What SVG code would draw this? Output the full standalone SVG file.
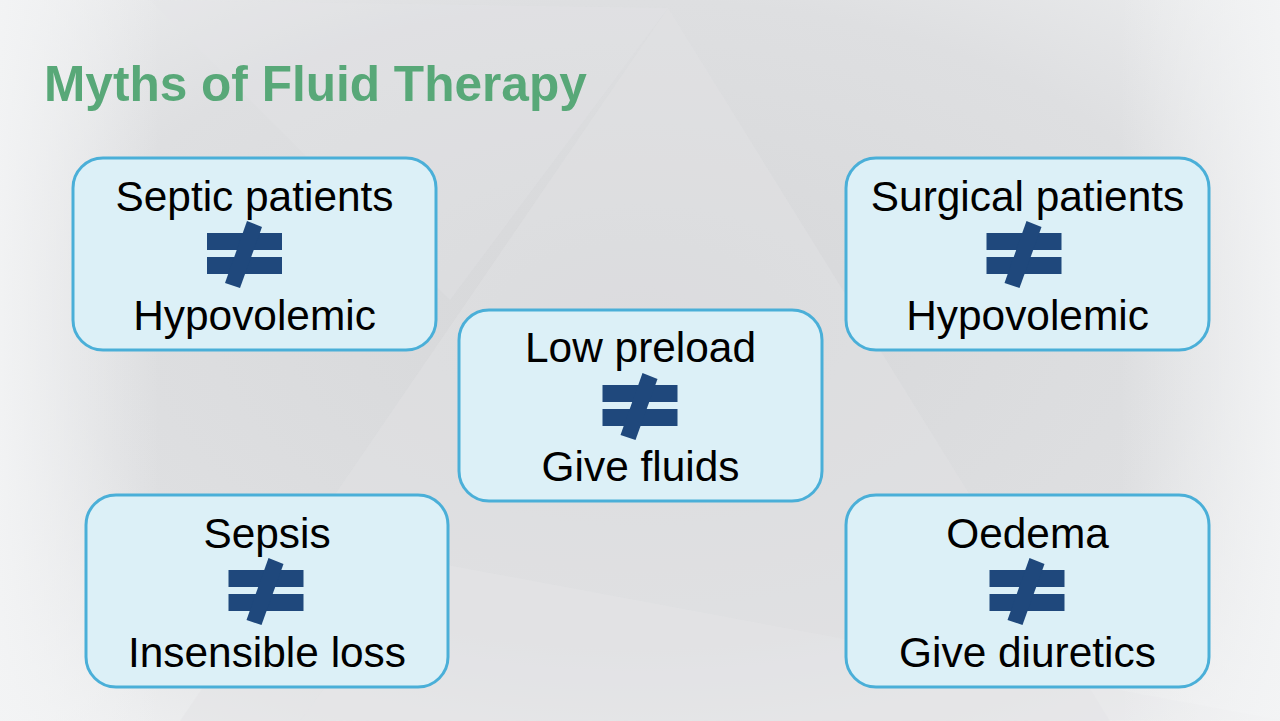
<svg xmlns="http://www.w3.org/2000/svg" width="1280" height="721" viewBox="0 0 1280 721">
  <defs>
    <radialGradient id="bg" cx="0.5" cy="0.45" r="0.75">
      <stop offset="0" stop-color="#d6d7d9"/>
      <stop offset="0.6" stop-color="#dedfe1"/>
      <stop offset="1" stop-color="#f1f2f3"/>
    </radialGradient>
    <linearGradient id="edgeL" x1="0" y1="0" x2="1" y2="0">
      <stop offset="0" stop-color="#f3f4f5" stop-opacity="0.9"/>
      <stop offset="1" stop-color="#f3f4f5" stop-opacity="0"/>
    </linearGradient>
    <linearGradient id="edgeR" x1="1" y1="0" x2="0" y2="0">
      <stop offset="0" stop-color="#f3f4f5" stop-opacity="0.9"/>
      <stop offset="1" stop-color="#f3f4f5" stop-opacity="0"/>
    </linearGradient>
    <g id="neq">
      <rect x="-37.5" y="-21" width="75" height="17"/>
      <rect x="-37.5" y="3" width="75" height="17"/>
      <polygon points="2.5,-33 17.5,-27 -4.5,34 -19.5,29"/>
    </g>
  </defs>
  <style>
    .box { fill: #dcf0f7; stroke: #4aafd8; stroke-width: 3; }
    .lbl { font-family: "Liberation Sans", Arial, sans-serif; font-size: 42.4px; fill: #000; text-anchor: middle; }
    .sym { fill: #1f487c; }
    .title { font-family: "Liberation Sans", Arial, sans-serif; font-size: 49.6px; font-weight: bold; fill: #58a878; }
  </style>
  <rect width="1280" height="721" fill="url(#bg)"/>
  <g id="background">
    <polygon points="668,8 1110,721 180,721" fill="#e2e3e5" opacity="0.45"/>
    <polygon points="150,0 668,8 450,300" fill="#e4e5e7" opacity="0.3"/>
    <polygon points="420,560 1280,720 300,721" fill="#e6e7e9" opacity="0.4"/>
    <rect x="0" y="0" width="160" height="721" fill="url(#edgeL)"/>
    <rect x="1120" y="0" width="160" height="721" fill="url(#edgeR)"/>
  </g>
  <text class="title" x="44" y="101">Myths of Fluid Therapy</text>
  <g id="node-septic">
    <rect class="box" x="73" y="158" width="363" height="192" rx="30"/>
    <text class="lbl" x="254.5" y="211">Septic patients</text>
    <use href="#neq" class="sym" x="244.5" y="254"/>
    <text class="lbl" x="254.5" y="330">Hypovolemic</text>
  </g>
  <g id="node-surgical">
    <rect class="box" x="846" y="158" width="363" height="192" rx="30"/>
    <text class="lbl" x="1027.5" y="211">Surgical patients</text>
    <use href="#neq" class="sym" x="1024" y="254"/>
    <text class="lbl" x="1027.5" y="330">Hypovolemic</text>
  </g>
  <g id="node-preload">
    <rect class="box" x="459" y="310" width="363" height="191" rx="30"/>
    <text class="lbl" x="640.5" y="362">Low preload</text>
    <use href="#neq" class="sym" x="640" y="406"/>
    <text class="lbl" x="640.5" y="481">Give fluids</text>
  </g>
  <g id="node-sepsis">
    <rect class="box" x="86" y="495" width="362" height="192" rx="30"/>
    <text class="lbl" x="267" y="548">Sepsis</text>
    <use href="#neq" class="sym" x="266" y="591"/>
    <text class="lbl" x="267" y="667">Insensible loss</text>
  </g>
  <g id="node-oedema">
    <rect class="box" x="846" y="495" width="363" height="192" rx="30"/>
    <text class="lbl" x="1027.5" y="548">Oedema</text>
    <use href="#neq" class="sym" x="1027" y="591"/>
    <text class="lbl" x="1027.5" y="667">Give diuretics</text>
  </g>
  <g id="connectors"/>
</svg>
